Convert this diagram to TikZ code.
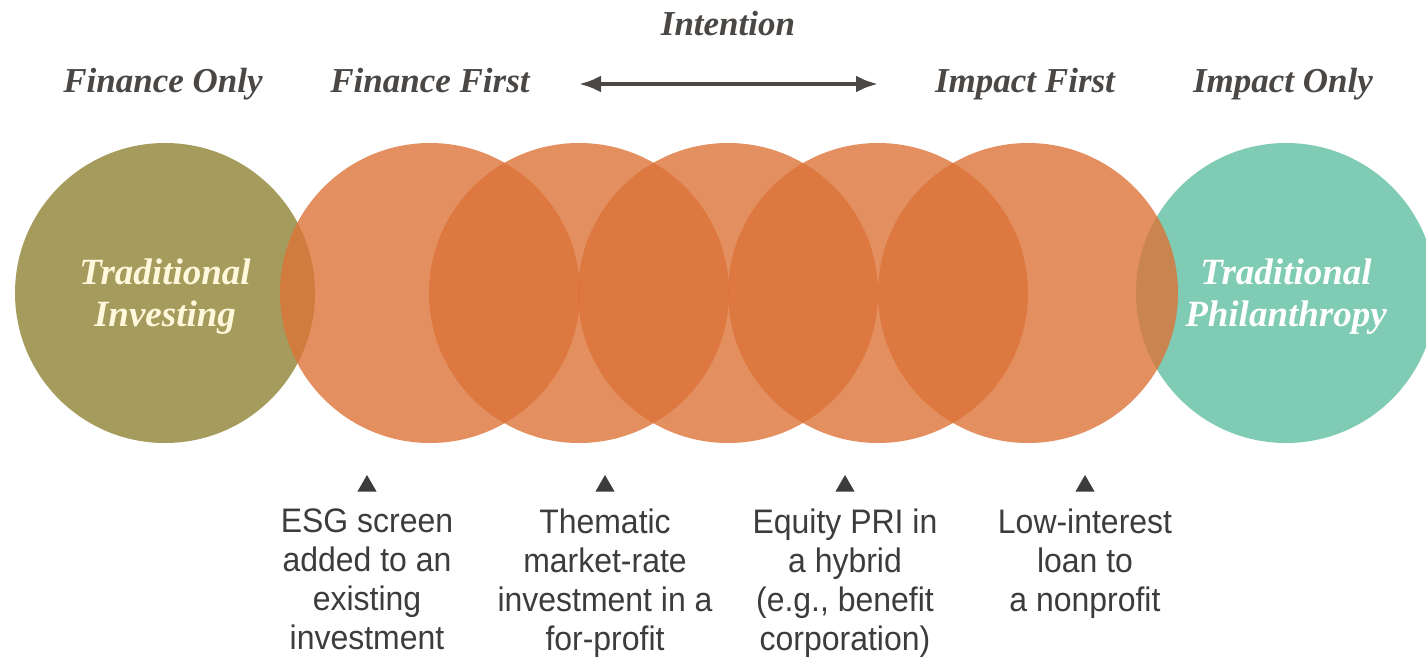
\documentclass[tikz,border=0pt]{standalone}
\usepackage{fontspec}
\setmainfont{Liberation Serif}
\newfontfamily\notefont[FakeStretch=0.94]{Liberation Sans}
\usetikzlibrary{shapes.geometric,arrows.meta}

\definecolor{finolive}{RGB}{165,155,92}
\definecolor{philteal}{RGB}{128,203,180}
\definecolor{midorange}{RGB}{220,115,56}
\definecolor{headgray}{RGB}{74,71,68}
\definecolor{notegray}{RGB}{60,60,60}
\definecolor{cream}{RGB}{255,248,220}

\begin{document}
\begin{tikzpicture}[x=1pt, y=-1pt, >={Latex[length=22pt,width=17pt]},
    ball/.style={circle, minimum size=300pt, inner sep=0pt, align=center,
      font=\bfseries\itshape\fontsize{37}{42}\selectfont},
    head/.style={font=\bfseries\itshape\fontsize{35}{35}\selectfont, text=headgray,
      anchor=base},
    note/.style={font=\notefont\fontsize{34}{39}\selectfont, align=center,
      text=notegray, anchor=north, inner sep=0pt},
    tick/.style={regular polygon, regular polygon sides=3, fill=notegray,
      inner sep=0pt, minimum size=22pt}]

  \useasboundingbox (0,0) rectangle (1426,660);

  % outer circles
  \node[ball, fill=finolive] (TI) at (165,293) {};
  \node[ball, fill=philteal] (TP) at (1286,293) {};
  \node[ball, text=cream] (TIt) at (165,297) {Traditional\\Investing};
  \node[ball, text=white] (TPt) at (1286,297) {Traditional\\Philanthropy};

  % overlapping impact investments
  \foreach \i/\x in {1/430,2/579,3/728,4/878,5/1028}
    \node[ball, fill=midorange, fill opacity=0.8] (O\i) at (\x,293) {};

  % headings
  \node[head] (FO) at (163,93) {Finance Only};
  \node[head] (FF) at (430,93) {Finance First};
  \node[head] (IF) at (1025,93) {Impact First};
  \node[head] (IO) at (1283,93) {Impact Only};
  \node[head] (IN) at (728,36) {Intention};
  \coordinate (AL) at (579,84);
  \coordinate (AR) at (878,84);
  \draw[<->, headgray, line width=4pt] (AL) -- (AR);

  % examples
  \node[tick] (T1) at (367,486) {};
  \node[tick] (T2) at (605,486) {};
  \node[tick] (T3) at (845,486) {};
  \node[tick] (T4) at (1085,486) {};
  \node[note] (E1) at (367,509) {ESG screen\\added to an\\existing\\investment};
  \node[note] (E2) at (605,509) {Thematic\\market-rate\\investment in a\\for-profit};
  \node[note] (E3) at (845,509) {Equity PRI in\\a hybrid\\(e.g., benefit\\corporation)};
  \node[note] (E4) at (1085,509) {Low-interest\\loan to\\a nonprofit};
\end{tikzpicture}
\end{document}
